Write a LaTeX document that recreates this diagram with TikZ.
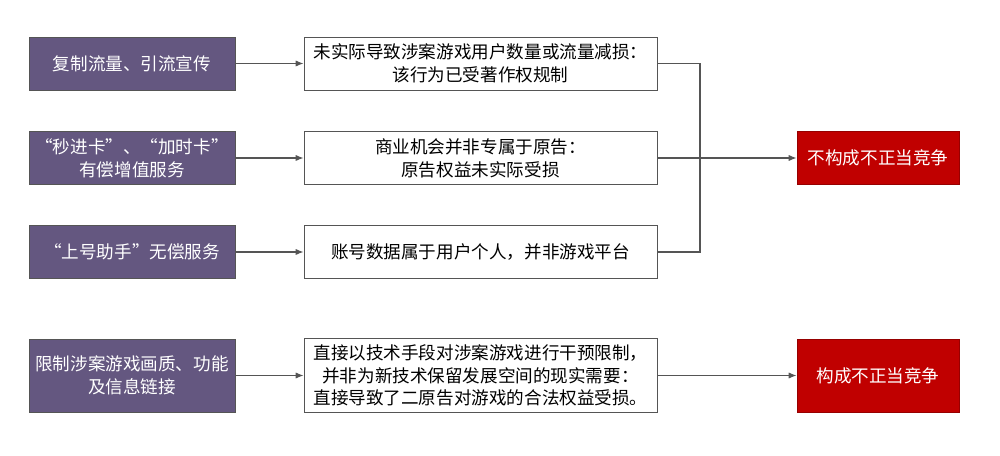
\documentclass[tikz,border=0pt]{standalone}
\usepackage{fontspec}
\setmainfont{Noto Sans CJK SC}
\usetikzlibrary{arrows.meta,positioning}
\definecolor{actpurple}{RGB}{100,87,128}
\definecolor{verdictred}{RGB}{192,0,0}
\definecolor{verdictedge}{RGB}{150,0,0}
\definecolor{linegray}{RGB}{85,85,85}

\begin{document}
\begin{tikzpicture}[>={Latex[length=4.5pt,width=3.5pt]},
    act/.style={draw=linegray, fill=actpurple, text=white, minimum width=4.12cm,
      minimum height=1.06cm, align=center, font=\fontsize{10}{13}\selectfont},
    reason/.style={draw=linegray, fill=white, minimum width=7.06cm,
      minimum height=1.06cm, align=center, font=\fontsize{10}{13}\selectfont},
    verdict/.style={draw=verdictedge, fill=verdictred, text=white, minimum width=3.24cm,
      minimum height=1.06cm, align=center, font=\fontsize{10}{13}\selectfont},
    link/.style={draw=linegray, line width=0.6pt}]
  \useasboundingbox (0,0) rectangle (20,9.12);

  % Row 1: traffic copying
  \node[act] (act1) at (2.64,7.85) {复制流量、引流宣传};
  \node[reason] (why1) at (9.61,7.85) {未实际导致涉案游戏用户数量或流量减损：\\该行为已受著作权规制};

  % Row 2: paid services
  \node[act] (act2) at (2.64,5.96) {“秒进卡”、“加时卡”\\有偿增值服务};
  \node[reason] (why2) at (9.61,5.96) {商业机会并非专属于原告：\\原告权益未实际受损};
  \node[verdict] (notunfair) at (17.56,5.96) {不构成不正当竞争};

  % Row 3: free login helper
  \node[act] (act3) at (2.64,4.08) {“上号助手”无偿服务};
  \node[reason] (why3) at (9.61,4.08) {账号数据属于用户个人，并非游戏平台};

  % Row 4: technical restriction
  \node[act, minimum height=1.46cm] (act4) at (2.64,1.61) {限制涉案游戏画质、功能\\及信息链接};
  \node[reason, minimum height=1.46cm] (why4) at (9.61,1.61) {直接以技术手段对涉案游戏进行干预限制，\\并非为新技术保留发展空间的现实需要：\\直接导致了二原告对游戏的合法权益受损。};
  \node[verdict, minimum height=1.46cm] (unfair) at (17.56,1.61) {构成不正当竞争};

  \coordinate (join) at (14,5.96);

  \draw[link,->] (act1) -- (why1);
  \draw[link,->] (act2) -- (why2);
  \draw[link,->] (act3) -- (why3);
  \draw[link,->] (act4) -- (why4);
  \draw[link] (why1.east) -| (join);
  \draw[link] (why3.east) -| (join);
  \draw[link,->] (why2) -- (notunfair);
  \draw[link,->] (why4) -- (unfair);
\end{tikzpicture}
\end{document}
